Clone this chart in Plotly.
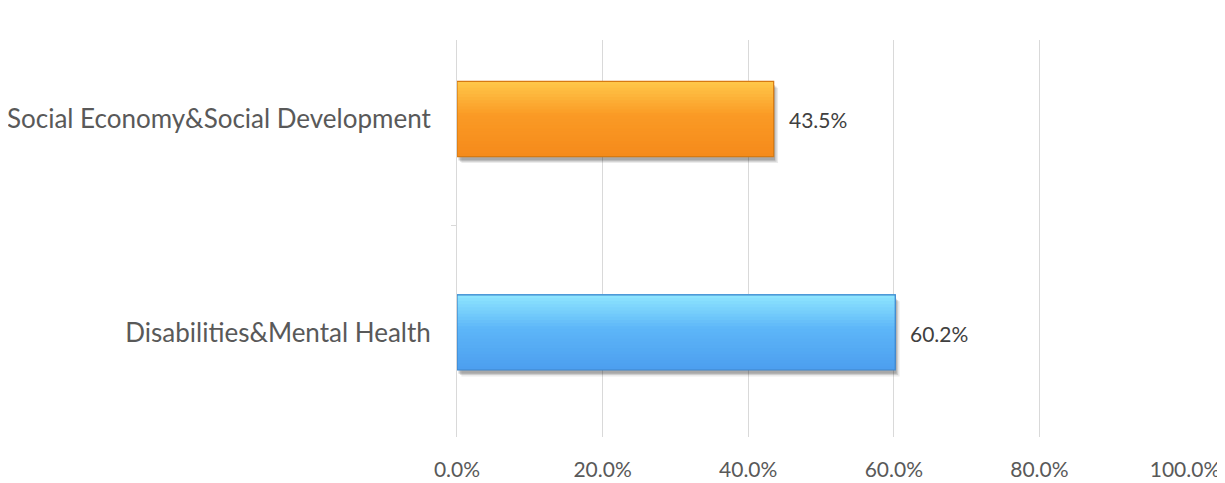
import plotly.graph_objects as go

categories = ["Disabilities&Mental Health", "Social Economy&Social Development"]
values = [0.602, 0.435]
labels = ["60.2%", "43.5%"]
x_ticks = [0, 0.2, 0.4, 0.6, 0.8, 1.0]
x_tick_text = ["0.0%", "20.0%", "40.0%", "60.0%", "80.0%", "100.0%"]

# styling (not data)
top_colors = ["#8FE6FF", "#FFC84A"]
mid_colors = ["#5DB6F8", "#FA9A25"]
bot_colors = ["#4C9EEF", "#F58A1B"]
edge_colors = ["#3E86CC", "#D67A12"]

BAR_W = 0.352
N = 24

def hex2rgb(h):
    h = h.lstrip("#")
    return tuple(int(h[i:i + 2], 16) for i in (0, 2, 4))

def mix(a, b, t):
    a, b = hex2rgb(a), hex2rgb(b)
    return "rgb(%d,%d,%d)" % tuple(round(a[i] + (b[i] - a[i]) * t) for i in range(3))

def strip_color(i, k):
    # k=0 at bottom, k=1 at top
    if k < 0.55:
        return mix(bot_colors[i], mid_colors[i], k / 0.55)
    return mix(mid_colors[i], top_colors[i], (k - 0.55) / 0.45)

fig = go.Figure()

# soft shadow
for j, a in enumerate([0.08, 0.12, 0.18]):
    d = 0.006 - j * 0.002
    fig.add_trace(go.Bar(
        y=categories, x=values, base=[d, d], orientation="h",
        width=BAR_W, offset=-BAR_W / 2 - 0.03 + j * 0.006,
        marker=dict(color="rgba(0,0,0,%.2f)" % a, line=dict(width=0)),
        hoverinfo="skip", showlegend=False,
    ))

# gradient: each layer covers from its start to the top of the bar
sw = BAR_W / N
for s in range(N):
    k = (s + 0.5) / N
    fig.add_trace(go.Bar(
        y=categories, x=values, orientation="h",
        width=BAR_W - s * sw, offset=-BAR_W / 2 + s * sw,
        marker=dict(color=[strip_color(i, k) for i in range(len(values))], line=dict(width=0)),
        hoverinfo="skip", showlegend=False,
    ))

# outline
fig.add_trace(go.Bar(
    y=categories, x=values, orientation="h",
    width=BAR_W, offset=-BAR_W / 2,
    marker=dict(color="rgba(0,0,0,0)", line=dict(color=edge_colors, width=1.2)),
    hoverinfo="skip", showlegend=False,
))

annotations = [
    dict(x=v, y=c, xref="x", yref="y", text=t, showarrow=False,
         xanchor="left", yanchor="middle", xshift=13, yshift=-1,
         font=dict(family="Lato", size=21, color="#404040"))
    for c, v, t in zip(categories, values, labels)
]

fig.update_layout(
    width=1225, height=483,
    margin=dict(l=449, r=48, t=32, b=54, autoexpand=False),
    paper_bgcolor="white", plot_bgcolor="white",
    barmode="overlay",
    font=dict(family="Lato", color="#595959"),
    annotations=annotations,
    xaxis=dict(
        range=[0, 1.0], tickvals=x_ticks, ticktext=x_tick_text,
        showgrid=True, gridcolor="#D9D9D9", gridwidth=1,
        zeroline=False, showline=False, automargin=False,
        tickfont=dict(size=21, color="#595959"),
        ticks="", ticklabelstandoff=18,
    ),
    yaxis=dict(
        type="category", categoryorder="array", categoryarray=categories,
        range=[-0.49, 1.37], automargin=False,
        showline=True, linecolor="#D9D9D9", linewidth=1,
        ticks="outside", ticklen=5, tickcolor="#D9D9D9", tickson="boundaries",
        showgrid=False, zeroline=False,
        tickfont=dict(size=26, color="#595959"),
        ticklabelstandoff=20,
    ),
)

fig.write_html("out.html")
